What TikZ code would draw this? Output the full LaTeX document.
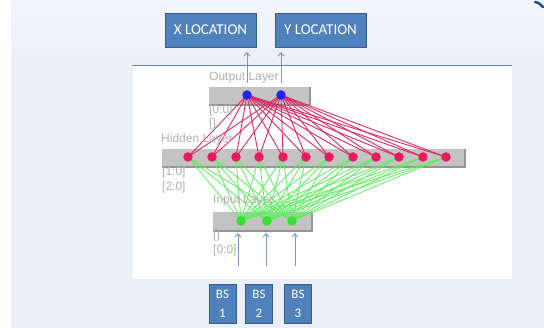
\documentclass[tikz,border=0pt]{standalone}
\usepackage{fontspec}
\setmainfont{Carlito}
\newfontfamily\labelfont{Liberation Sans}
\usetikzlibrary{arrows.meta}

\definecolor{slidebg}{HTML}{EBF0F8}
\definecolor{boxfill}{HTML}{4F81BD}
\definecolor{boxedge}{HTML}{385D8A}
\definecolor{panelline}{HTML}{6F82A8}
\definecolor{arrowblue}{HTML}{7A96C4}
\definecolor{labelgray}{HTML}{B0B0B0}
\definecolor{barfill}{HTML}{C3C3C3}
\definecolor{barshade}{HTML}{959595}
\definecolor{outdot}{HTML}{2222EE}
\definecolor{hiddot}{HTML}{E8195C}
\definecolor{hidlink}{HTML}{DE2A64}
\definecolor{indot}{HTML}{33E033}
\definecolor{inlink}{HTML}{5CF05C}
\definecolor{swoosh}{HTML}{1F4F9C}

\pgfdeclarelayer{base}
\pgfdeclarelayer{links}
\pgfsetlayers{base,links,main}

\tikzset{
  locbox/.style={draw=boxedge, line width=0.9pt, fill=boxfill, text=white,
    font=\fontsize{15}{17}\selectfont, inner sep=0pt,
    minimum width=91pt, minimum height=34pt},
  bsbox/.style={draw=boxedge, line width=0.9pt, fill=boxfill, text=white,
    font=\fontsize{13}{19}\selectfont, align=center, inner sep=0pt,
    minimum width=27pt, minimum height=39pt},
  glabel/.style={text=labelgray, font=\labelfont\fontsize{12}{13}\selectfont,
    anchor=base west, inner sep=0pt},
  layerbar/.style={fill=barfill},
  barshadow/.style={draw=barshade, line width=1.2pt},
  outn/.style={circle, fill=outdot, inner sep=0pt, minimum size=9.5pt},
  hidn/.style={circle, fill=hiddot, inner sep=0pt, minimum size=9.5pt},
  inn/.style={circle, fill=indot, inner sep=0pt, minimum size=9.5pt},
  redlink/.style={draw=hidlink, line width=0.9pt},
  greenlink/.style={draw=inlink, line width=0.8pt},
  uparrow/.style={draw=arrowblue, line width=0.9pt,
    -{Straight Barb[length=3.5pt, width=6pt]}},
}

\begin{document}
\begin{tikzpicture}[x=1pt, y=-1pt]
\useasboundingbox (0,0) rectangle (544,328);

\begin{pgfonlayer}{base}
% slide background
\fill[white] (0,0) rectangle (544,328);
\shade[top color=slidebg!60!white, bottom color=slidebg] (11,0) rectangle (544,60);
\fill[slidebg] (11,60) rectangle (544,328);
\draw[swoosh, line width=2.5pt, line cap=round] (535,2) .. controls (539,3) .. (543,7);

% network panel
\fill[white] (133,65) rectangle (512,279);
\draw[panelline, line width=0.9pt] (132,65) -- (512,65);

% layer bars with their shaded lower and right edges
\fill[layerbar] (209,87) rectangle (310,105);
\draw[barshadow] (209,105) -- (310,105) -- (310,87);
\fill[layerbar] (162,149) rectangle (465,167);
\draw[barshadow] (162,167) -- (465,167) -- (465,149);
\fill[layerbar] (213,212) rectangle (312,231);
\draw[barshadow] (213,231) -- (312,231) -- (312,212);
\end{pgfonlayer}

% layer labels
\node[glabel] (outlbl) at (209,81) {Output Layer};
\node[glabel] (outidx) at (209,114) {[0:0]};
\node[glabel] (outnil) at (209,128) {[]};
\node[glabel] (hidlbl) at (161,143) {Hidden Layer};
\node[glabel] (hididx1) at (162,176) {[1:0]};
\node[glabel] (hididx2) at (162,191) {[2:0]};
\node[glabel] (inlbl) at (213,204) {Input Layer};
\node[glabel] (innil) at (213,239) {[]};
\node[glabel] (inidx) at (213,254) {[0:0]};

% neurons
\node[outn] (o1) at (247,95) {};
\node[outn] (o2) at (281,95) {};
\foreach \j/\x in {1/188,2/212,3/236,4/259,5/283,6/306,7/329,8/353,9/376,10/399,11/423,12/446}
  \node[hidn] (h\j) at (\x,157) {};
\node[inn] (i1) at (241,221) {};
\node[inn] (i2) at (267,221) {};
\node[inn] (i3) at (292,221) {};

% weighted connections, drawn over the labels and beneath the neurons
\begin{pgfonlayer}{links}
\foreach \j in {1,...,12} {
  \foreach \k in {1,2}
    \draw[redlink] (o\k.center) -- (h\j.center);
  \foreach \k in {1,2,3}
    \draw[greenlink] (i\k.center) -- (h\j.center);
}
\end{pgfonlayer}

% output targets
\node[locbox] (xloc) at (210.5,30) {X LOCATION};
\node[locbox] (yloc) at (320.5,30) {Y LOCATION};

% base station inputs
\node[bsbox] (bs1) at (222.5,303.5) {BS\\1};
\node[bsbox] (bs2) at (259,303.5) {BS\\2};
\node[bsbox] (bs3) at (298,303.5) {BS\\3};

% signal arrows
\coordinate (xa0) at (247,83);
\coordinate (xa1) at (247,52);
\coordinate (ya0) at (281,83);
\coordinate (ya1) at (281,52);
\draw[uparrow] (xa0) -- (xa1);
\draw[uparrow] (ya0) -- (ya1);
\foreach \k/\x in {1/238,2/266,3/295} {
  \coordinate (ia\k) at (\x,266);
  \coordinate (ib\k) at (\x,233);
  \draw[uparrow] (ia\k) -- (ib\k);
}
\end{tikzpicture}
\end{document}
